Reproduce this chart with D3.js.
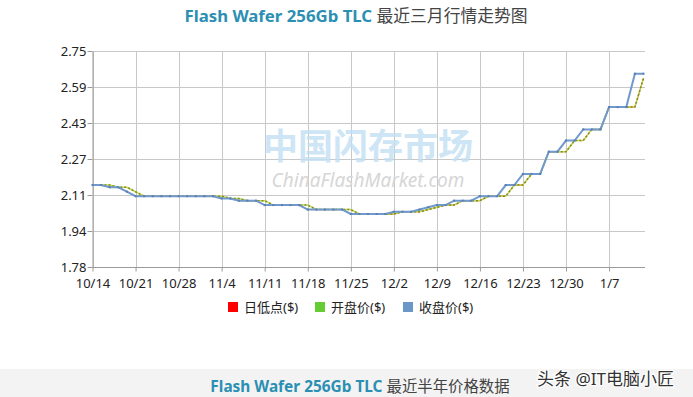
<!DOCTYPE html>
<html>
<head>
<meta charset="utf-8">
<script src="https://cdn.jsdelivr.net/npm/d3@7/dist/d3.min.js"></script>
<style>
  body { margin: 0; background: #fff; }
  text { font-family: "Noto Sans", "Noto Sans CJK SC", sans-serif; }
</style>
</head>
<body>
<div id="chart"></div>
<script>
// trading days shown on the x axis (one label every 5 points)
var dates = ["10/14","10/15","10/16","10/17","10/18",
  "10/21","10/22","10/23","10/24","10/25",
  "10/28","10/29","10/30","10/31","11/1",
  "11/4","11/5","11/6","11/7","11/8",
  "11/11","11/12","11/13","11/14","11/15",
  "11/18","11/19","11/20","11/21","11/22",
  "11/25","11/26","11/27","11/28","11/29",
  "12/2","12/3","12/4","12/5","12/6",
  "12/9","12/10","12/11","12/12","12/13",
  "12/16","12/17","12/18","12/19","12/20",
  "12/23","12/24","12/25","12/26","12/27",
  "12/30","12/31","1/2","1/3","1/6",
  "1/7","1/8","1/9","1/10","1/13"];

var lowPrice = [2.15,2.15,2.14,2.14,2.12, 2.10,2.10,2.10,2.10,2.10,
  2.10,2.10,2.10,2.10,2.10, 2.09,2.09,2.08,2.08,2.08,
  2.06,2.06,2.06,2.06,2.06, 2.04,2.04,2.04,2.04,2.04,
  2.02,2.02,2.02,2.02,2.02, 2.02,2.03,2.03,2.03,2.04,
  2.05,2.06,2.06,2.08,2.08, 2.08,2.10,2.10,2.10,2.15,
  2.15,2.20,2.20,2.30,2.30, 2.30,2.35,2.35,2.40,2.40,
  2.50,2.50,2.50,2.50,2.63];

var openPrice = [2.15,2.15,2.15,2.14,2.14, 2.12,2.10,2.10,2.10,2.10,
  2.10,2.10,2.10,2.10,2.10, 2.10,2.09,2.09,2.08,2.08,
  2.08,2.06,2.06,2.06,2.06, 2.06,2.04,2.04,2.04,2.04,
  2.04,2.02,2.02,2.02,2.02, 2.02,2.03,2.03,2.03,2.04,
  2.05,2.06,2.06,2.08,2.08, 2.08,2.10,2.10,2.10,2.15,
  2.15,2.20,2.20,2.30,2.30, 2.30,2.35,2.35,2.40,2.40,
  2.50,2.50,2.50,2.50,2.63];

var closePrice = [2.15,2.15,2.14,2.14,2.12, 2.10,2.10,2.10,2.10,2.10,
  2.10,2.10,2.10,2.10,2.10, 2.09,2.09,2.08,2.08,2.08,
  2.06,2.06,2.06,2.06,2.06, 2.04,2.04,2.04,2.04,2.04,
  2.02,2.02,2.02,2.02,2.02, 2.03,2.03,2.03,2.04,2.05,
  2.06,2.06,2.08,2.08,2.08, 2.10,2.10,2.10,2.15,2.15,
  2.20,2.20,2.20,2.30,2.30, 2.35,2.35,2.40,2.40,2.40,
  2.50,2.50,2.50,2.65,2.65];

var yTickLabels = ["1.78","1.94","2.11","2.27","2.43","2.59","2.75"];
var yMin = 1.782, yMax = 2.752;

var legendNames = ["日低点($)", "开盘价($)", "收盘价($)"];
var legendColors = ["#ff0000", "#66cc33", "#6b97c8"];

var svgWidth = 693, svgHeight = 397;
var plotLeft = 92.5, plotRight = 645, plotTop = 51, plotBottom = 267;

var svg = d3.select("#chart").append("svg")
  .attr("width", svgWidth)
  .attr("height", svgHeight);

// title
var title = svg.append("text")
  .attr("x", 356).attr("y", 22)
  .attr("text-anchor", "middle")
  .attr("font-size", "16.8px");
title.append("tspan").attr("fill", "#2b8fb3").attr("font-weight", "bold").text("Flash Wafer 256Gb TLC ");
title.append("tspan").attr("fill", "#444").attr("font-family", "Noto Sans CJK SC").text("最近三月行情走势图");

// scales
var x = d3.scaleLinear().domain([0, dates.length - 1]).range([plotLeft, 643.5]);
var y = d3.scaleLinear().domain([yMin, yMax]).range([plotBottom, plotTop]);
var yTicks = yTickLabels.map(function(d, i) { return yMin + i * (yMax - yMin) / (yTickLabels.length - 1); });
var xTicks = d3.range(0, dates.length, 5);

// grid
var grid = svg.append("g");
grid.selectAll(".hg").data(yTicks).enter().append("line")
  .attr("x1", plotLeft).attr("x2", plotRight)
  .attr("y1", d => Math.round(y(d)) + 0.5).attr("y2", d => Math.round(y(d)) + 0.5)
  .attr("stroke", "#c8c8c8");
grid.selectAll(".vg").data(xTicks).enter().append("line")
  .attr("x1", d => Math.round(x(d)) + 0.5).attr("x2", d => Math.round(x(d)) + 0.5)
  .attr("y1", plotTop).attr("y2", plotBottom)
  .attr("stroke", "#c8c8c8");

// watermark
svg.append("text")
  .attr("x", 368).attr("y", 159)
  .attr("text-anchor", "middle")
  .attr("font-family", "Noto Sans CJK SC")
  .attr("font-size", "35px")
  .attr("font-weight", "bold")
  .attr("fill", "#c2dff3")
  .attr("opacity", 0.8)
  .text("中国闪存市场");
svg.append("text")
  .attr("x", 368).attr("y", 187)
  .attr("text-anchor", "middle")
  .attr("font-size", "19px")
  .attr("font-style", "italic")
  .attr("fill", "#d6d6d6")
  .text("ChinaFlashMarket.com");

// axes
var leftAxis = d3.axisLeft(y).tickValues(yTicks)
  .tickFormat((d, i) => yTickLabels[i]).tickSize(5).tickSizeOuter(0);
var bottomAxis = d3.axisBottom(x).tickValues(xTicks)
  .tickFormat(d => dates[d]).tickSize(4).tickSizeOuter(0);

var gy = svg.append("g").attr("transform", "translate(" + plotLeft + ",0)").call(leftAxis);
var gx = svg.append("g").attr("transform", "translate(0," + (plotBottom + 0.5) + ")").call(bottomAxis);
gx.select(".domain").attr("d", "M" + plotLeft + ",0H" + plotRight);
[gy, gx].forEach(function(g) {
  g.select(".domain").attr("stroke", "#9a9a9a");
  g.selectAll(".tick line").attr("stroke", "#9a9a9a");
  g.selectAll(".tick text").attr("fill", "#222").attr("font-size", "13px")
    .attr("font-family", "Noto Sans");
});
gy.selectAll(".tick text").attr("x", -6);
gx.selectAll(".tick text").attr("dy", "1.05em");

// series
var line = d3.line().x((d, i) => x(i)).y(d => y(d));

svg.append("path").datum(lowPrice)
  .attr("d", line).attr("fill", "none")
  .attr("stroke", legendColors[0]).attr("stroke-width", 1);

svg.append("path").datum(openPrice)
  .attr("d", line).attr("fill", "none")
  .attr("stroke", "#cfd84a").attr("stroke-width", 1.5);
svg.append("path").datum(openPrice)
  .attr("d", line).attr("fill", "none")
  .attr("stroke", "#73902e").attr("stroke-width", 1.5)
  .attr("stroke-dasharray", "2,2");

svg.append("path").datum(closePrice)
  .attr("d", line).attr("fill", "none")
  .attr("stroke", "#7099cc").attr("stroke-width", 2);
svg.selectAll(".mk").data(closePrice).enter().append("rect")
  .attr("x", (d, i) => x(i) - 1).attr("y", d => y(d) - 1)
  .attr("width", 2).attr("height", 2)
  .attr("fill", "#5a7fb4");

// legend
var legendX = [228, 315, 403];
var lg = svg.selectAll(".lg").data(legendNames).enter().append("g")
  .attr("transform", (d, i) => "translate(" + legendX[i] + ",302)");
lg.append("rect").attr("width", 10).attr("height", 10)
  .attr("fill", (d, i) => legendColors[i]);
lg.append("text").attr("x", 16).attr("y", 10)
  .attr("font-size", "13px").attr("fill", "#222")
  .attr("font-family", "Noto Sans CJK SC")
  .text(d => d);

// bottom band
svg.append("rect").attr("x", 0).attr("y", 369)
  .attr("width", svgWidth).attr("height", 28).attr("fill", "#f3f3f3");
var sub = svg.append("text")
  .attr("x", 360).attr("y", 392)
  .attr("text-anchor", "middle")
  .attr("font-size", "15.4px");
sub.append("tspan").attr("fill", "#2b8fb3").attr("font-weight", "bold").text("Flash Wafer 256Gb TLC ");
sub.append("tspan").attr("fill", "#444").attr("font-family", "Noto Sans CJK SC").text("最近半年价格数据");

svg.append("text")
  .attr("x", 537).attr("y", 385)
  .attr("font-size", "17px")
  .attr("font-family", "Noto Sans CJK SC")
  .attr("fill", "#333")
  .attr("stroke", "#fff").attr("stroke-width", 2.5)
  .attr("paint-order", "stroke")
  .text("头条 @IT电脑小匠");
</script>
</body>
</html>
